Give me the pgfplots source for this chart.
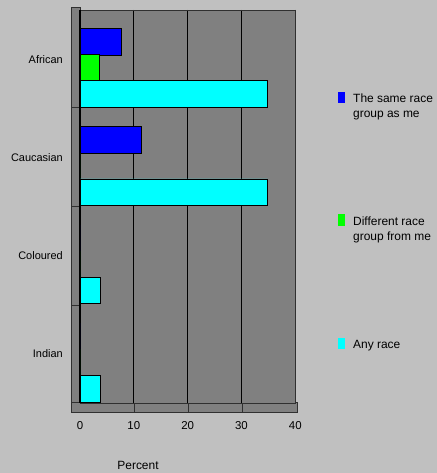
\documentclass[border=0pt]{standalone}
\usepackage{pgfplots}
\pgfplotsset{compat=1.18}
\usepackage{pgfplotstable}
\usepackage{fontspec}
\setmainfont{Liberation Sans}

\definecolor{bg}{HTML}{C0C0C0}
\definecolor{wall}{HTML}{808080}
\definecolor{edge}{HTML}{303030}
\definecolor{sameblue}{HTML}{0000FF}
\definecolor{diffgreen}{HTML}{00FF00}
\definecolor{anycyan}{HTML}{00FFFF}

% percent per group
\pgfplotstableread{
cat same diff any
0   7.7  3.7  34.8
1   11.5 0    34.8
2   0    0    3.8
3   0    0    3.8
}\racedata

\begin{document}
\begin{tikzpicture}[x=1bp, y=1bp, font=\fontsize{12}{15}\selectfont]
\fill[bg] (0,0) rectangle (437,473);
% left wall and floor
\draw[edge, fill=wall] (71,61) rectangle (80,466);
\foreach \y in {366,267,168} \draw[edge] (71,\y) -- (80,\y);
\draw[edge, fill=wall] (71,61) rectangle (297,71);
\foreach \x in {134,188,242} \draw[edge] (\x,61) -- (\x,71);

\begin{axis}[
  at={(80bp,70bp)}, anchor=south west,
  scale only axis, width=215.3bp, height=393bp,
  xbar, bar width=0.27,
  xmin=0, xmax=40, ymin=-0.5, ymax=3.5, y dir=reverse,
  xtick={0,10,20,30,40},
  ytick={0,1,2,3}, yticklabels={African,Caucasian,Coloured,Indian},
  major tick length=0pt,
  xmajorgrids, grid style={black, line width=0.8bp},
  axis background/.style={fill=wall},
  axis line style={edge, line width=0.8bp},
  /pgf/number format/assume math mode=true,
  xticklabel style={font=\fontsize{11.5}{14}\selectfont, anchor=center, yshift=-23bp},
  yticklabel style={font=\fontsize{11}{14}\selectfont, anchor=east, inner sep=0pt, xshift=-17bp},
  clip=false,
]
\draw[black, line width=1.5bp] (axis cs:0,-0.5) -- (axis cs:0,3.5);
\addplot[fill=sameblue, draw=black, line width=0.9bp, bar shift=-0.175] table[x=same, y=cat]{\racedata};
\addplot[fill=diffgreen, draw=black, line width=0.9bp, bar shift=0.09] table[x=diff, y=cat]{\racedata};
\addplot[fill=anycyan, draw=black, line width=0.9bp, bar shift=0.355] table[x=any, y=cat]{\racedata};
\end{axis}

% legend
\fill[sameblue] (338,370) rectangle (345,381);
\node[anchor=west, align=left, inner sep=0pt] at (353,366.5) {The same race\\group as me};
\fill[diffgreen] (338,247) rectangle (345,259);
\node[anchor=west, align=left, inner sep=0pt] at (353,242.7) {Different race\\group from me};
\fill[anycyan] (338,124) rectangle (345,135);
\node[anchor=west, align=left, inner sep=0pt] at (353,127.3) {Any race};

\node at (138,7.5) {Percent};

\pgfresetboundingbox
\path (0,0) rectangle (437,473);
\end{tikzpicture}
\end{document}
